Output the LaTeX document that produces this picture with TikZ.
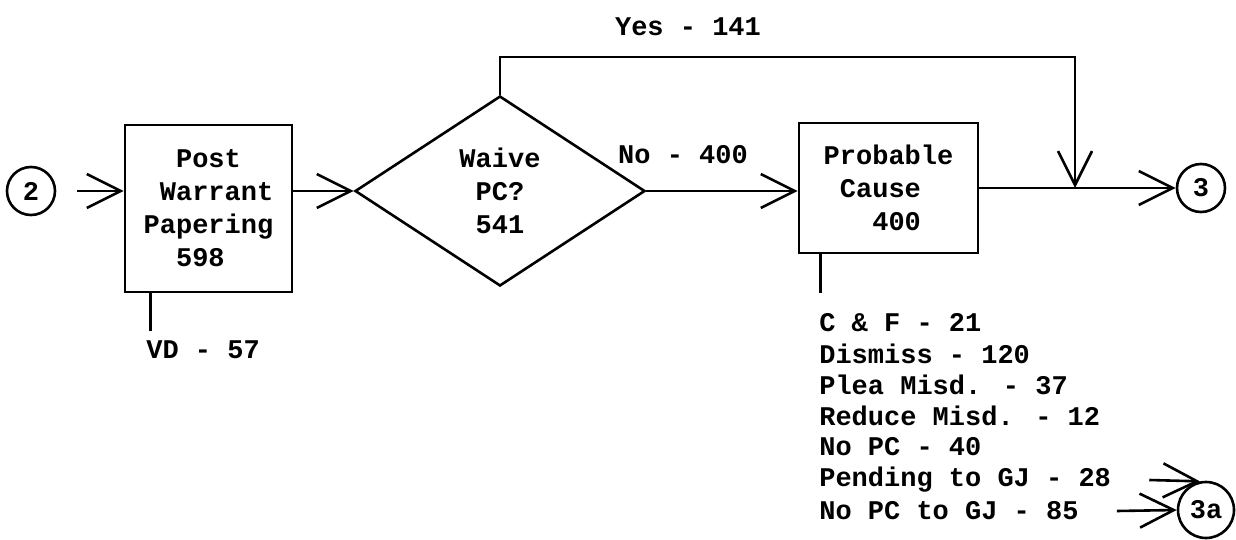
\documentclass[tikz,border=0pt]{standalone}
\usepackage{fontspec}
\setmainfont{Liberation Mono}
\usetikzlibrary{arrows.meta,shapes.geometric}
\begin{document}
\begin{tikzpicture}[x=0.5pt,y=-0.5pt,line width=1.3pt,
  txt/.style={font=\fontsize{13.5}{16.5}\selectfont\bfseries, inner sep=0pt},
  boxnode/.style={draw, rectangle, inner sep=0pt, align=center, txt},
  conn/.style={circle, draw, minimum size=24pt, inner sep=0pt, txt},
  flowarrow/.style={-{Straight Barb[length=17pt,width=17pt]}}]
\useasboundingbox (0,0) rectangle (1236,540);

% connectors (circles)
\node[conn] (c2) at (31,191) {2};
\node[conn] (c3) at (1201,188) {3};
\node[conn, minimum size=28pt] (c3a) at (1206,510) {3a};

% boxes
\node[boxnode, minimum width=83.5pt, minimum height=83.5pt] (pw) at (208.5,208.5)
  {Post\\\phantom{x}Warrant\\Papering\\598\phantom{x}};
\node[draw, diamond, aspect=1.5, minimum width=145pt, minimum height=95pt,
  inner sep=0pt, align=center, txt] (dm) at (500,191) {Waive\\PC?\\541};
\node[boxnode, minimum width=89.5pt, minimum height=65pt] (pc) at (888.5,188)
  {Probable\\Cause\phantom{x}\\\phantom{x}400};

% labels
\node[txt] (yes) at (688,27) {Yes - 141};
\node[txt] (no) at (683,155) {No - 400};
\node[txt, anchor=west] (vd) at (145,350) {VD - 57};

\node[txt, anchor=west] (l1) at (818,323) {C \& F - 21};
\node[txt, anchor=west] (l2) at (818,354) {Dismiss - 120};
\node[txt, anchor=west] (l3) at (818,385) {Plea Misd. - 37};
\node[txt, anchor=west] (l4) at (818,416) {Reduce Misd. - 12};
\node[txt, anchor=west] (l5) at (818,447) {No PC - 40};
\node[txt, anchor=west] (pend) at (818,480) {Pending to GJ - 28};
\node[txt, anchor=west] (nopcgj) at (818,511) {No PC to GJ - 85};

\coordinate (top) at (1075,57);
\coordinate (j) at (1075,188);

% flow connectors
\draw[flowarrow] ([xshift=10.5pt]c2.east) -- (pw.west |- c2);
\draw[flowarrow] (pw.east |- dm.west) -- (dm.west);
\draw[flowarrow] (dm.east) -- (pc.west |- dm.east);
\draw[flowarrow] (dm.north) |- (top) -- (j);
\draw[flowarrow] (pc.east |- c3) -- (c3.west);

% exits
\draw ([xshift=13.5pt]pw.south west) -- ++(0,38);
\draw ([xshift=11.5pt]pc.south west) -- ++(0,39);

\draw[flowarrow] ([xshift=18.5pt]pend.east) -- (c3a.102);
\draw[flowarrow] ([xshift=18.5pt]nopcgj.east) -- (c3a.west);
\end{tikzpicture}
\end{document}
